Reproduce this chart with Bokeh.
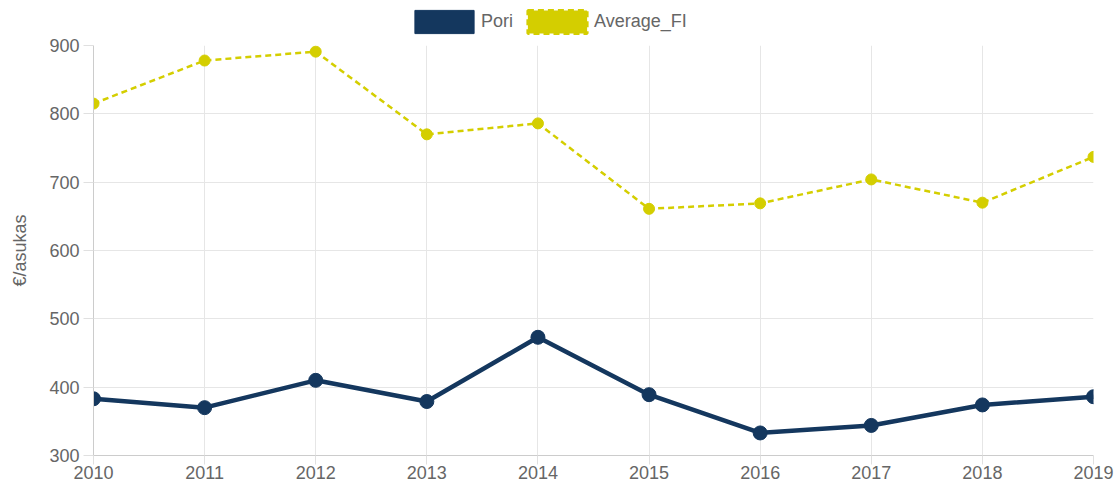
from bokeh.plotting import figure
from bokeh.layouts import column
from bokeh.models import Range1d, FixedTicker, Legend, LegendItem
from bokeh.embed import file_html
from bokeh.resources import INLINE

years = [2010, 2011, 2012, 2013, 2014, 2015, 2016, 2017, 2018, 2019]
pori = [383, 370, 410, 379, 473, 389, 333, 344, 374, 386]
average_fi = [815, 878, 891, 770, 786, 661, 669, 704, 670, 737]
y_ticks = [300, 400, 500, 600, 700, 800, 900]

NAVY = "#14375e"
YELLOW = "#d4ce00"
FONT = "Liberation Sans"
FS = "18px"

p = figure(width=1115, height=448, output_backend="svg", toolbar_location=None,
           x_range=Range1d(2010, 2019), y_range=Range1d(300, 900),
           min_border_left=93, min_border_right=22, min_border_bottom=30,
           min_border_top=8)
p.outline_line_color = None

for ax in (p.xaxis[0], p.yaxis[0]):
    ax.axis_line_color = "#cccccc"
    ax.major_tick_line_color = "#e0e0e0"
    ax.major_tick_out = 10
    ax.major_tick_in = 0
    ax.minor_tick_line_color = None
    ax.major_label_text_color = "#666666"
    ax.major_label_text_font = FONT
    ax.major_label_text_font_size = FS
p.xaxis.major_tick_out = 9
p.xaxis.ticker = FixedTicker(ticks=years)
p.yaxis.ticker = FixedTicker(ticks=y_ticks)
p.xaxis.major_label_standoff = 1
p.yaxis.major_label_standoff = 4
p.yaxis.axis_label = "€/asukas"
p.yaxis.axis_label_text_font = FONT
p.yaxis.axis_label_text_font_style = "normal"
p.yaxis.axis_label_text_font_size = FS
p.yaxis.axis_label_text_color = "#666666"
p.yaxis.axis_label_standoff = 16

p.xgrid.grid_line_color = "#e6e6e6"
p.ygrid.grid_line_color = "#e6e6e6"

p.line(years, average_fi, line_color=YELLOW, line_width=2.5, line_dash="6 4")
p.scatter(years, average_fi, size=11, fill_color=YELLOW, line_color=YELLOW)
p.line(years, pori, line_color=NAVY, line_width=4.5)
p.scatter(years, pori, size=14, fill_color=NAVY, line_color=NAVY)

# legend strip on top
lg = figure(width=1115, height=37, output_backend="svg", toolbar_location=None,
            x_range=Range1d(0, 1), y_range=Range1d(0, 1),
            min_border_left=0, min_border_right=0, min_border_top=0, min_border_bottom=0)
lg.axis.visible = False
lg.grid.visible = False
lg.outline_line_color = None
r_pori = lg.quad(left=[0], right=[0], top=[0], bottom=[0], fill_color=NAVY,
                 line_color=NAVY, line_width=1)
r_avg = lg.quad(left=[0], right=[0], top=[0], bottom=[0], fill_color=YELLOW,
                line_color=YELLOW, line_width=3, line_dash="6 4")
legend = Legend(items=[LegendItem(label="Pori", renderers=[r_pori]),
                       LegendItem(label="Average_FI", renderers=[r_avg])],
                orientation="horizontal", location=(314, 1),
                glyph_width=74, glyph_height=29, label_text_font=FONT,
                label_text_font_size=FS, label_text_color="#666666",
                border_line_color=None, background_fill_alpha=0,
                spacing=7, padding=0, margin=0, label_standoff=0)
lg.add_layout(legend, "center")

layout = column(lg, p, spacing=0)
open("out.html", "w").write(file_html(layout, INLINE))
